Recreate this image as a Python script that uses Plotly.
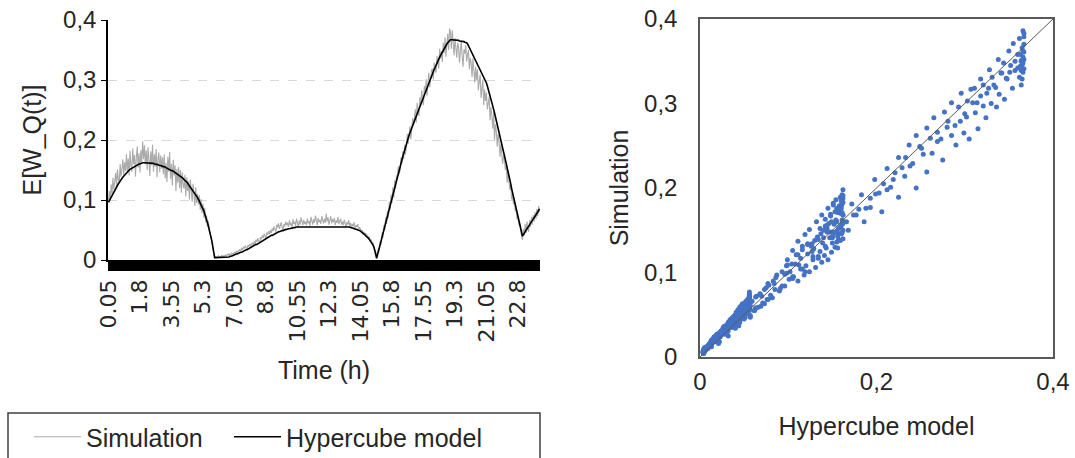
import plotly.graph_objects as go

# ---------------- data ----------------
# time categories (h): 0.05 .. 24.00 every 0.05 h (480 categories)
time_h = [round(0.05 * k, 2) for k in range(1, 481)]

tick_labels = ["0.05", "1.8", "3.55", "5.3", "7.05", "8.8", "10.55", "12.3",
               "14.05", "15.8", "17.55", "19.3", "21.05", "22.8"]

hypercube_model = [
    0.096, 0.099, 0.102, 0.105, 0.108, 0.111, 0.114, 0.116, 0.119, 0.122, 0.124, 0.127, 0.129, 0.132, 0.134, 0.136, 0.138, 0.140, 0.142, 0.144,
    0.145, 0.147, 0.148, 0.150, 0.151, 0.152, 0.153, 0.154, 0.155, 0.156, 0.157, 0.158, 0.159, 0.159, 0.160, 0.160, 0.161, 0.161, 0.162, 0.162,
    0.162, 0.162, 0.162, 0.162, 0.162, 0.162, 0.162, 0.161, 0.161, 0.161, 0.161, 0.160, 0.160, 0.160, 0.159, 0.159, 0.158, 0.158, 0.157, 0.157,
    0.156, 0.156, 0.155, 0.155, 0.154, 0.153, 0.153, 0.152, 0.151, 0.150, 0.149, 0.149, 0.148, 0.147, 0.146, 0.145, 0.144, 0.143, 0.142, 0.141,
    0.140, 0.138, 0.137, 0.136, 0.134, 0.133, 0.131, 0.130, 0.128, 0.126, 0.124, 0.122, 0.120, 0.118, 0.116, 0.114, 0.111, 0.109, 0.106, 0.104,
    0.101, 0.098, 0.096, 0.093, 0.090, 0.086, 0.082, 0.077, 0.073, 0.068, 0.062, 0.057, 0.051, 0.046, 0.040, 0.031, 0.022, 0.013, 0.004, 0.004,
    0.004, 0.004, 0.004, 0.004, 0.004, 0.004, 0.004, 0.004, 0.004, 0.004, 0.004, 0.005, 0.005, 0.005, 0.005, 0.006, 0.006, 0.007, 0.007, 0.008,
    0.009, 0.009, 0.010, 0.010, 0.011, 0.011, 0.012, 0.013, 0.013, 0.014, 0.015, 0.015, 0.016, 0.017, 0.017, 0.018, 0.019, 0.019, 0.020, 0.021,
    0.022, 0.023, 0.024, 0.025, 0.026, 0.026, 0.027, 0.028, 0.029, 0.030, 0.031, 0.032, 0.033, 0.034, 0.035, 0.035, 0.036, 0.037, 0.038, 0.039,
    0.040, 0.041, 0.041, 0.042, 0.043, 0.044, 0.045, 0.045, 0.046, 0.047, 0.047, 0.048, 0.048, 0.049, 0.049, 0.050, 0.050, 0.051, 0.051, 0.052,
    0.052, 0.052, 0.053, 0.053, 0.053, 0.054, 0.054, 0.054, 0.055, 0.055, 0.055, 0.055, 0.055, 0.055, 0.056, 0.056, 0.056, 0.056, 0.056, 0.056,
    0.056, 0.056, 0.056, 0.056, 0.056, 0.056, 0.056, 0.056, 0.056, 0.056, 0.056, 0.056, 0.056, 0.056, 0.056, 0.056, 0.056, 0.056, 0.056, 0.056,
    0.056, 0.056, 0.056, 0.056, 0.056, 0.056, 0.056, 0.056, 0.056, 0.056, 0.056, 0.056, 0.056, 0.056, 0.056, 0.056, 0.056, 0.056, 0.056, 0.056,
    0.056, 0.056, 0.056, 0.056, 0.056, 0.055, 0.055, 0.055, 0.055, 0.054, 0.054, 0.053, 0.053, 0.052, 0.052, 0.051, 0.051, 0.050, 0.050, 0.049,
    0.048, 0.047, 0.046, 0.044, 0.043, 0.042, 0.040, 0.039, 0.037, 0.036, 0.034, 0.032, 0.030, 0.028, 0.025, 0.021, 0.016, 0.010, 0.003, 0.009,
    0.015, 0.021, 0.027, 0.032, 0.038, 0.044, 0.050, 0.057, 0.063, 0.069, 0.075, 0.081, 0.087, 0.093, 0.099, 0.105, 0.111, 0.116, 0.122, 0.128,
    0.133, 0.139, 0.144, 0.150, 0.155, 0.161, 0.166, 0.172, 0.177, 0.183, 0.188, 0.193, 0.198, 0.203, 0.208, 0.212, 0.216, 0.221, 0.225, 0.229,
    0.233, 0.237, 0.241, 0.245, 0.249, 0.253, 0.257, 0.261, 0.265, 0.269, 0.273, 0.277, 0.281, 0.285, 0.289, 0.293, 0.296, 0.300, 0.303, 0.307,
    0.311, 0.314, 0.318, 0.321, 0.325, 0.328, 0.331, 0.335, 0.338, 0.341, 0.344, 0.347, 0.350, 0.352, 0.355, 0.357, 0.360, 0.362, 0.364, 0.366,
    0.367, 0.367, 0.367, 0.367, 0.367, 0.367, 0.366, 0.366, 0.366, 0.366, 0.365, 0.365, 0.365, 0.364, 0.364, 0.364, 0.363, 0.363, 0.362, 0.360,
    0.357, 0.354, 0.351, 0.348, 0.345, 0.342, 0.339, 0.336, 0.333, 0.330, 0.327, 0.324, 0.321, 0.318, 0.315, 0.312, 0.309, 0.305, 0.302, 0.299,
    0.295, 0.290, 0.285, 0.280, 0.275, 0.269, 0.263, 0.257, 0.251, 0.245, 0.238, 0.232, 0.225, 0.219, 0.212, 0.206, 0.199, 0.193, 0.186, 0.180,
    0.174, 0.168, 0.162, 0.156, 0.150, 0.142, 0.134, 0.127, 0.119, 0.112, 0.105, 0.098, 0.091, 0.084, 0.077, 0.070, 0.063, 0.057, 0.050, 0.043,
    0.040, 0.042, 0.045, 0.047, 0.050, 0.052, 0.054, 0.057, 0.059, 0.061, 0.064, 0.066, 0.068, 0.071, 0.073, 0.076, 0.078, 0.080, 0.083, 0.085,
]

simulation = [
    0.098, 0.115, 0.101, 0.126, 0.110, 0.137, 0.117, 0.131, 0.145, 0.122, 0.151, 0.134, 0.128, 0.160, 0.139, 0.152, 0.168, 0.141, 0.163, 0.148,
    0.176, 0.148, 0.169, 0.141, 0.182, 0.157, 0.147, 0.186, 0.160, 0.175, 0.139, 0.171, 0.189, 0.154, 0.178, 0.146, 0.183, 0.162, 0.198, 0.168,
    0.191, 0.160, 0.183, 0.150, 0.188, 0.168, 0.140, 0.181, 0.158, 0.192, 0.147, 0.176, 0.155, 0.185, 0.138, 0.170, 0.179, 0.146, 0.174, 0.152,
    0.171, 0.143, 0.176, 0.136, 0.162, 0.130, 0.172, 0.147, 0.180, 0.135, 0.160, 0.124, 0.167, 0.141, 0.158, 0.115, 0.152, 0.129, 0.155, 0.120,
    0.150, 0.112, 0.146, 0.125, 0.119, 0.142, 0.106, 0.138, 0.115, 0.131, 0.101, 0.134, 0.108, 0.097, 0.127, 0.104, 0.090, 0.121, 0.095, 0.110,
    0.092, 0.108, 0.084, 0.101, 0.078, 0.094, 0.070, 0.087, 0.063, 0.074, 0.055, 0.065, 0.047, 0.045, 0.035, 0.030, 0.018, 0.012, 0.005, 0.006,
    0.005, 0.004, 0.007, 0.005, 0.006, 0.004, 0.008, 0.005, 0.007, 0.006, 0.009, 0.006, 0.008, 0.011, 0.007, 0.010, 0.008, 0.012, 0.009, 0.011,
    0.013, 0.010, 0.015, 0.012, 0.016, 0.014, 0.018, 0.015, 0.020, 0.017, 0.022, 0.019, 0.024, 0.021, 0.018, 0.025, 0.022, 0.027, 0.023, 0.026,
    0.029, 0.024, 0.031, 0.027, 0.034, 0.030, 0.036, 0.032, 0.028, 0.038, 0.035, 0.041, 0.037, 0.044, 0.039, 0.036, 0.046, 0.042, 0.048, 0.043,
    0.050, 0.045, 0.053, 0.048, 0.056, 0.051, 0.047, 0.059, 0.054, 0.061, 0.052, 0.057, 0.063, 0.055, 0.050, 0.060, 0.056, 0.064, 0.058, 0.062,
    0.055, 0.066, 0.058, 0.062, 0.053, 0.068, 0.060, 0.064, 0.057, 0.069, 0.061, 0.055, 0.066, 0.059, 0.071, 0.062, 0.058, 0.067, 0.060, 0.064,
    0.058, 0.069, 0.061, 0.065, 0.057, 0.072, 0.063, 0.059, 0.068, 0.062, 0.074, 0.064, 0.058, 0.070, 0.063, 0.067, 0.060, 0.073, 0.065, 0.061,
    0.069, 0.062, 0.077, 0.064, 0.071, 0.059, 0.066, 0.073, 0.061, 0.068, 0.063, 0.070, 0.058, 0.066, 0.062, 0.072, 0.060, 0.065, 0.069, 0.059,
    0.064, 0.058, 0.067, 0.061, 0.055, 0.063, 0.059, 0.066, 0.057, 0.062, 0.054, 0.060, 0.056, 0.063, 0.052, 0.058, 0.055, 0.060, 0.051, 0.054,
    0.052, 0.046, 0.050, 0.043, 0.047, 0.041, 0.045, 0.038, 0.042, 0.035, 0.039, 0.031, 0.034, 0.027, 0.029, 0.022, 0.018, 0.014, 0.006, 0.012,
    0.019, 0.016, 0.031, 0.025, 0.046, 0.037, 0.058, 0.049, 0.071, 0.060, 0.082, 0.070, 0.097, 0.084, 0.109, 0.095, 0.121, 0.104, 0.133, 0.119,
    0.141, 0.135, 0.156, 0.143, 0.149, 0.171, 0.160, 0.181, 0.168, 0.192, 0.176, 0.188, 0.210, 0.194, 0.205, 0.223, 0.201, 0.218, 0.236, 0.224,
    0.236, 0.251, 0.229, 0.262, 0.249, 0.240, 0.271, 0.259, 0.283, 0.266, 0.258, 0.290, 0.279, 0.301, 0.274, 0.296, 0.312, 0.288, 0.303, 0.317,
    0.318, 0.301, 0.329, 0.322, 0.312, 0.340, 0.331, 0.319, 0.352, 0.336, 0.348, 0.330, 0.362, 0.345, 0.371, 0.339, 0.358, 0.377, 0.350, 0.386,
    0.379, 0.352, 0.383, 0.361, 0.341, 0.370, 0.348, 0.337, 0.362, 0.355, 0.329, 0.346, 0.366, 0.339, 0.322, 0.351, 0.344, 0.358, 0.331, 0.342,
    0.350, 0.318, 0.337, 0.329, 0.305, 0.336, 0.311, 0.296, 0.322, 0.300, 0.318, 0.283, 0.297, 0.309, 0.270, 0.289, 0.301, 0.258, 0.284, 0.265,
    0.279, 0.251, 0.262, 0.272, 0.233, 0.255, 0.241, 0.219, 0.247, 0.200, 0.226, 0.214, 0.189, 0.210, 0.198, 0.172, 0.193, 0.177, 0.160, 0.175,
    0.168, 0.150, 0.158, 0.129, 0.148, 0.131, 0.117, 0.125, 0.101, 0.109, 0.093, 0.099, 0.081, 0.087, 0.068, 0.072, 0.058, 0.061, 0.046, 0.039,
    0.034, 0.052, 0.041, 0.060, 0.045, 0.064, 0.051, 0.047, 0.066, 0.055, 0.072, 0.059, 0.075, 0.064, 0.080, 0.068, 0.085, 0.073, 0.090, 0.080,
]

diagonal = [0.0, 0.4]

# ---------------- figure ----------------
W, H = 1075, 458
FONT = "Liberation Sans, Arial, sans-serif"
TXT = "#262626"
FS = 25

def px_x(p):
    return p / W

def px_y(p):
    return 1 - p / H

fig = go.Figure()

fig.add_trace(go.Scatter(
    x=time_h, y=simulation, mode="lines", name="Simulation", legend="legend",
    line=dict(color="#ABABAB", width=1.1), xaxis="x", yaxis="y"))
fig.add_trace(go.Scatter(
    x=time_h, y=hypercube_model, mode="lines", name="Hypercube model", legend="legend2",
    line=dict(color="#000000", width=1.6), xaxis="x", yaxis="y"))

fig.add_trace(go.Scatter(
    x=hypercube_model, y=simulation, mode="markers", showlegend=False,
    marker=dict(color="#4472C4", size=5), xaxis="x2", yaxis="y2"))
fig.add_trace(go.Scatter(
    x=diagonal, y=diagonal, mode="lines", showlegend=False,
    line=dict(color="#595959", width=1), xaxis="x2", yaxis="y2"))

legend_common = dict(
    orientation="h", yanchor="top", xanchor="left", y=px_y(414),
    borderwidth=0, bgcolor="rgba(0,0,0,0)",
    font=dict(size=FS, color=TXT), itemwidth=47, tracegroupgap=0)

fig.update_layout(
    template="none",
    width=W, height=H,
    margin=dict(l=0, r=0, t=0, b=0, autoexpand=False),
    paper_bgcolor="white", plot_bgcolor="white",
    separators=",.",
    font=dict(family=FONT, size=FS, color=TXT),
    showlegend=True,
    legend=dict(x=px_x(29), **legend_common),
    legend2=dict(x=px_x(229), **legend_common),
    shapes=[dict(type="rect", xref="paper", yref="paper",
                 x0=px_x(8), x1=px_x(540), y0=px_y(413), y1=px_y(475),
                 line=dict(color="#404040", width=1.5), fillcolor="rgba(0,0,0,0)",
                 layer="below")],
    xaxis=dict(
        domain=[px_x(108), px_x(540)], range=[0.025, 24.025], automargin=False,
        tickmode="array", tickvals=[float(s) for s in tick_labels], ticktext=tick_labels,
        tickangle=-90, ticks="outside", ticklen=9, tickcolor="black", tickwidth=1,
        minor=dict(tick0=0.05, dtick=0.05, ticks="outside", ticklen=9,
                   tickcolor="black", tickwidth=1, showgrid=False),
        showline=True, linecolor="black", linewidth=1.5,
        showgrid=False, zeroline=False,
        tickfont=dict(family="DejaVu Sans, sans-serif", size=22, color=TXT),
        title=dict(text="Time (h)", font=dict(size=FS, color=TXT), standoff=20),
        anchor="y"),
    yaxis=dict(
        domain=[px_y(260), px_y(20)], range=[0, 0.4], dtick=0.1, automargin=False,
        ticks="outside", ticklen=5, tickcolor="black",
        showline=True, linecolor="black", linewidth=1.5,
        showgrid=True, gridcolor="#D9D9D9", griddash="dash", gridwidth=1,
        zeroline=False,
        tickfont=dict(size=24, color=TXT),
        title=dict(text="E[W_Q(t)]", font=dict(size=FS, color=TXT), standoff=14),
        anchor="x"),
    xaxis2=dict(
        domain=[px_x(700), px_x(1053)], range=[0, 0.4], dtick=0.2, automargin=False,
        ticks="outside", ticklen=2, tickcolor="rgba(0,0,0,0)",
        showline=True, mirror=True, linecolor="#595959", linewidth=1.5,
        showgrid=False, zeroline=False,
        tickfont=dict(size=24, color=TXT),
        title=dict(text="Hypercube model", font=dict(size=FS, color=TXT), standoff=24),
        anchor="y2"),
    yaxis2=dict(
        domain=[px_y(357), px_y(19)], range=[0, 0.4], dtick=0.1, automargin=False,
        ticks="outside", ticklen=16, tickcolor="rgba(0,0,0,0)",
        showline=True, mirror=True, linecolor="#595959", linewidth=1.5,
        showgrid=False, zeroline=False,
        tickfont=dict(size=24, color=TXT),
        title=dict(text="Simulation", font=dict(size=FS, color=TXT), standoff=8),
        anchor="x2"),
)

fig.write_html("out.html", config={"displayModeBar": False},
               post_script="document.body.style.margin='0px';")
